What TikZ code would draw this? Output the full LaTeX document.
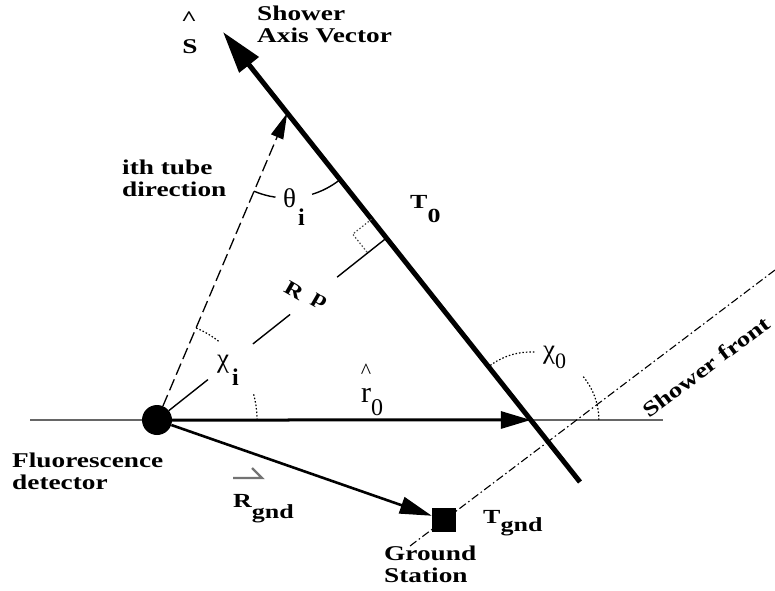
\documentclass[tikz,border=0pt]{standalone}
\usepackage{fontspec}
\setmainfont{Liberation Serif}[FakeStretch=1.3]
\newfontfamily\grk{Liberation Serif}
\usetikzlibrary{arrows.meta,calc}
\begin{document}
\begin{tikzpicture}[x=1pt,y=1pt,
  txt/.style={font=\fontsize{21}{22}\selectfont\bfseries, align=left, inner sep=0pt},
  lbl/.style={font=\fontsize{20}{22}\selectfont\bfseries, inner sep=0pt},
  dotline/.style={line width=1.2pt, dash pattern=on 1.5pt off 2pt},
  thin/.style={line width=1.4pt}]
\useasboundingbox (0,0) rectangle (775,590);
% key points
\coordinate (B) at (580,108);
\coordinate (A) at (223,558);
\coordinate (W) at (30,170);
\coordinate (E) at (663,170);
\coordinate (SF1) at (410,44);
\coordinate (SF2) at (775,320);
% ground line and shower front
\draw[black!60, line width=1.6pt] (W) -- (E);
\draw[line width=1.1pt, dash pattern=on 8pt off 3pt on 1.5pt off 3pt] (SF1) -- (SF2);
% detector and ground station
\node[circle, fill, minimum size=30pt, inner sep=0pt] (D) at (157,170) {};
\node[fill, minimum size=24pt, inner sep=0pt] (G) at (444,70) {};
\coordinate (X) at (intersection of B--A and W--E);
\coordinate (T) at ($(B)!0.82!(A)$);
\coordinate (F) at ($(B)!(D.center)!(A)$);
% shower axis
\draw[line width=5pt, -{Triangle[length=42pt,width=24pt]}] (B) -- (A);
% r0 and Rgnd
\draw[line width=3pt, -{Triangle[length=30pt,width=17pt]}] (D) -- (X);
\draw[line width=2.6pt, -{Triangle[length=32pt,width=17pt]}] (D) -- (G);
% tube direction
\draw[line width=1.3pt, dash pattern=on 12pt off 5pt, -{Triangle[length=26pt,width=13pt]}] (D) -- (T);
% Rp line in pieces
\draw[thin] ($(D.center)!15pt!(F)$) -- ($(D.center)!0.222!(F)$);
\draw[thin] ($(D.center)!0.418!(F)$) -- ($(D.center)!0.58!(F)$);
\draw[thin] ($(D.center)!0.785!(F)$) -- (F);
% right angle marker
\coordinate (P1) at ($(F)!24pt!(A)$);
\coordinate (P3) at ($(F)!24pt!(D.center)$);
\coordinate (P2) at ($(P1)+(P3)-(F)$);
\draw[dotline, black!70] (P1) -- (P2) -- (P3);
% theta_i arc
\draw[thin] ([shift={(247:85pt)}]T) arc[start angle=247, end angle=262, radius=85pt];
\draw[thin] ([shift={(287:85pt)}]T) arc[start angle=287, end angle=308.4, radius=85pt];
% chi_i arc
\draw[dotline] ([shift={(0:100pt)}]D.center) arc[start angle=0, end angle=15, radius=100pt];
\draw[dotline] ([shift={(52:100pt)}]D.center) arc[start angle=52, end angle=67, radius=100pt];
% chi_0 arc
\draw[dotline] ([shift={(0:68pt)}]X) arc[start angle=0, end angle=40, radius=68pt];
\draw[dotline] ([shift={(87:68pt)}]X) arc[start angle=87, end angle=128.4, radius=68pt];
% texts
\node[txt, anchor=west] (lsav) at (257,566) {Shower\\Axis Vector};
\node[txt, anchor=base] (lshat) at (189,564) {\^{}};
\node[txt] (ls) at (190,543) {S};
\node[txt, anchor=west] (ltube) at (122,411.5) {ith tube\\direction};
\node[txt, anchor=west] (lfd) at (12,118.5) {Fluorescence\\detector};
\node[txt, anchor=west] (lgs) at (384,26) {Ground\\Station};
\node[txt, rotate=37] (lsf) at (706,223) {Shower front};
\node[lbl, anchor=base west] (lt0) at (410,382) {T\raisebox{-14pt}{0}};
\node[lbl, anchor=base west] (ltg) at (483,67) {T\raisebox{-8pt}{gnd}};
\node[lbl, anchor=base west] (lrg) at (233,83) {R\raisebox{-11pt}{gnd}};
\draw[black!55, line width=2.4pt] (233,112) -- (262,112) -- (252,122);
\node[lbl, rotate=-30] (lr) at (294,299) {R};
\node[lbl, rotate=-30] (lp) at (319,288) {p};
\node[anchor=base west, inner sep=0pt] (lth) at (283,383) {\grk\fontsize{27}{27}\selectfont θ\hspace{2pt}\raisebox{-18pt}{\fontsize{24}{24}\selectfont\bfseries i}};
\node[anchor=base west, inner sep=0pt] (lchi) at (217,223) {\grk\fontsize{27}{27}\selectfont χ\hspace{3pt}\raisebox{-18pt}{\fontsize{24}{24}\selectfont\bfseries i}};
\node[anchor=base west, inner sep=0pt] (lchi0) at (543,232) {\grk\fontsize{27}{27}\selectfont χ\raisebox{-10pt}{\fontsize{22}{22}\selectfont 0}};
\node[anchor=base west, inner sep=0pt] (lr0) at (361,188) {\grk\fontsize{30}{30}\selectfont r\raisebox{-13pt}{\fontsize{24}{24}\selectfont 0}};
\node[anchor=base, inner sep=0pt] (lr0hat) at (366,212) {\grk\fontsize{22}{22}\selectfont\^{}};
\end{tikzpicture}
\end{document}
